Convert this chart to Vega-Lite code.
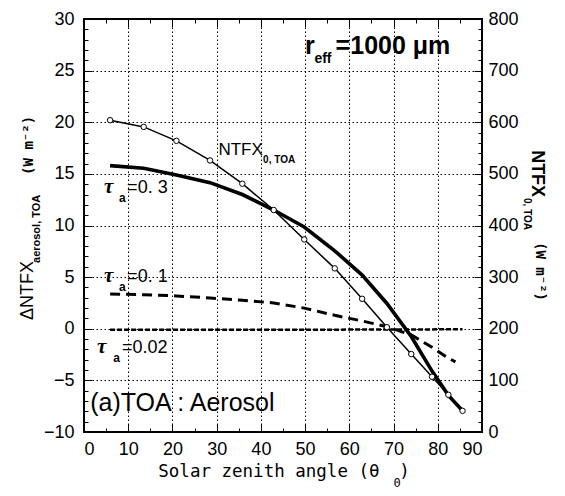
{
  "$schema": "https://vega.github.io/schema/vega-lite/v6.json",
  "autosize": "none",
  "width": 398,
  "height": 413,
  "padding": {"left": 84, "top": 19, "right": 83, "bottom": 64},
  "background": "white",
  "config": {
    "view": {"stroke": "black", "strokeWidth": 2, "fill": "transparent"},
    "axis": {"labelFont": "Liberation Sans", "labelFontSize": 18, "labelColor": "black", "tickColor": "black", "domain": false, "gridColor": "black", "gridDash": [1.5, 2.5], "title": null}
  },
  "datasets": {
    "t03": [
      {"x": 5.9, "y": 15.8}, {"x": 13.5, "y": 15.55}, {"x": 20.9, "y": 14.9}, {"x": 28.5, "y": 14.15},
      {"x": 35.8, "y": 13.0}, {"x": 42.9, "y": 11.5}, {"x": 49.8, "y": 9.85}, {"x": 56.7, "y": 7.55},
      {"x": 62.9, "y": 5.2}, {"x": 68.5, "y": 2.45}, {"x": 74.0, "y": -0.75}, {"x": 78.7, "y": -4.1},
      {"x": 82.4, "y": -6.45}, {"x": 85.6, "y": -7.95}
    ],
    "t01": [
      {"x": 5.9, "y": 3.37}, {"x": 13.5, "y": 3.3}, {"x": 20.9, "y": 3.18}, {"x": 28.5, "y": 2.98},
      {"x": 35.8, "y": 2.75}, {"x": 42.9, "y": 2.5}, {"x": 49.8, "y": 2.0}, {"x": 56.7, "y": 1.3},
      {"x": 62.9, "y": 0.75}, {"x": 68.5, "y": 0.2}, {"x": 74.0, "y": -0.6}, {"x": 78.7, "y": -1.8},
      {"x": 82.4, "y": -2.85}, {"x": 84.0, "y": -3.2}
    ],
    "t002": [
      {"x": 5.9, "y": -0.1}, {"x": 20.9, "y": -0.1}, {"x": 42.9, "y": -0.1}, {"x": 62.9, "y": -0.08},
      {"x": 74.0, "y": -0.07}, {"x": 85.6, "y": -0.05}
    ],
    "ntfx": [
      {"x": 5.9, "y": 604}, {"x": 13.5, "y": 591}, {"x": 20.9, "y": 564}, {"x": 28.5, "y": 526},
      {"x": 35.8, "y": 481}, {"x": 42.9, "y": 430}, {"x": 49.8, "y": 373}, {"x": 56.7, "y": 317},
      {"x": 62.9, "y": 258}, {"x": 68.5, "y": 203}, {"x": 74.0, "y": 151}, {"x": 78.7, "y": 107},
      {"x": 82.4, "y": 72}, {"x": 85.6, "y": 41}
    ],
    "eqlab": [
      {"x": 9.75, "y": 13.15, "t": "=0. 3"},
      {"x": 9.75, "y": 4.53, "t": "=0. 1"},
      {"x": 8.6, "y": -2.35, "t": "=0.02"}
    ],
    "taulab": [
      {"x": 4.55, "y": 13.15, "t": "τ"},
      {"x": 4.55, "y": 4.53, "t": "τ"},
      {"x": 2.96, "y": -2.35, "t": "τ"}
    ],
    "alab": [
      {"x": 7.94, "y": 12.28, "t": "a"},
      {"x": 7.94, "y": 3.66, "t": "a"},
      {"x": 6.6, "y": -3.22, "t": "a"}
    ],
    "rlab": [{"x": 50.0, "y": 26.6, "t": "r"}],
    "efflab": [{"x": 52.1, "y": 25.7, "t": "eff"}],
    "umlab": [{"x": 56.9, "y": 26.6, "t": "=1000 μm"}],
    "ntlab": [{"x": 30.4, "y": 16.83, "t": "NTFX"}],
    "ntsub": [{"x": 40.5, "y": 16.05, "t": "0, TOA"}],
    "panel": [{"x": 1.4, "y": -7.97, "t": "(a)TOA : Aerosol"}],
    "ltitle": [{"x": -11.5, "y": 0.85, "t": "ΔNTFX"}],
    "lsub": [{"x": -9.93, "y": 6.37, "t": "aerosol, TOA"}],
    "lunit": [{"x": -11.5, "y": 14.9, "t": "(W m⁻²)"}],
    "rtitle": [{"x": 101.4, "y": 17.3, "t": "NTFX"}],
    "rsub": [{"x": 99.6, "y": 12.66, "t": "0, TOA"}],
    "runit": [{"x": 102.1, "y": 8.4, "t": "(W m⁻²)"}],
    "btitle": [{"x": 16.8, "y": -14.36, "t": "Solar zenith angle (θ"}, {"x": 71.3, "y": -14.36, "t": ")"}],
    "bsub": [{"x": 70.0, "y": -15.3, "t": "0"}]
  },
  "resolve": {"scale": {"y": "independent"}, "axis": {"x": "independent", "y": "independent"}},
  "layer": [
    {
      "resolve": {"axis": {"x": "independent", "y": "independent"}},
      "encoding": {
        "x": {"field": "x", "type": "quantitative", "scale": {"domain": [0, 90], "nice": false, "zero": false}, "axis": null},
        "y": {"field": "y", "type": "quantitative", "scale": {"domain": [-10, 30], "nice": false, "zero": false}, "axis": null}
      },
      "layer": [
        {
          "data": {"name": "t03"},
          "mark": {"type": "line", "color": "black", "strokeWidth": 3.6},
          "encoding": {
            "x": {"field": "x", "type": "quantitative", "scale": {"domain": [0, 90], "nice": false, "zero": false},
                  "axis": {"orient": "bottom", "values": [0, 10, 20, 30, 40, 50, 60, 70, 80, 90], "grid": true, "tickSize": -8, "labelPadding": 16}},
            "y": {"field": "y", "type": "quantitative", "scale": {"domain": [-10, 30], "nice": false, "zero": false},
                  "axis": {"orient": "left", "values": [-10, -5, 0, 5, 10, 15, 20, 25, 30], "grid": true, "tickSize": -8, "labelPadding": 18, "labelExpr": "replace(datum.label, '-', '−')"}}
          }
        },
        {
          "data": {"name": "t01"},
          "mark": {"type": "line", "color": "black", "strokeWidth": 3, "strokeDash": [10, 6]},
          "encoding": {
            "x": {"field": "x", "type": "quantitative", "scale": {"domain": [0, 90], "nice": false, "zero": false},
                  "axis": {"orient": "bottom", "values": [5, 15, 25, 35, 45, 55, 65, 75, 85], "labels": false, "grid": false, "tickSize": -4}},
            "y": {"field": "y", "type": "quantitative", "scale": {"domain": [-10, 30], "nice": false, "zero": false},
                  "axis": {"orient": "left", "values": [-9, -8, -7, -6, -4, -3, -2, -1, 1, 2, 3, 4, 6, 7, 8, 9, 11, 12, 13, 14, 16, 17, 18, 19, 21, 22, 23, 24, 26, 27, 28, 29], "labels": false, "grid": false, "tickSize": -4}}
          }
        },
        {
          "data": {"name": "t002"},
          "mark": {"type": "line", "color": "black", "strokeWidth": 2.5, "strokeDash": [5, 2]},
          "encoding": {
            "x": {"field": "x", "type": "quantitative", "scale": {"domain": [0, 90], "nice": false, "zero": false},
                  "axis": {"orient": "top", "values": [0, 10, 20, 30, 40, 50, 60, 70, 80, 90], "labels": false, "grid": false, "tickSize": -8}}
          }
        },
        {
          "data": {"name": "eqlab"},
          "mark": {"type": "text", "font": "Liberation Sans", "fontSize": 18, "align": "left", "baseline": "alphabetic", "color": "black"},
          "encoding": {
            "x": {"field": "x", "type": "quantitative", "scale": {"domain": [0, 90], "nice": false, "zero": false},
                  "axis": {"orient": "top", "values": [5, 15, 25, 35, 45, 55, 65, 75, 85], "labels": false, "grid": false, "tickSize": -4}},
            "text": {"field": "t"}
          }
        },
        {"data": {"name": "taulab"}, "mark": {"type": "text", "font": "Liberation Serif", "fontSize": 21, "fontStyle": "italic", "fontWeight": "bold", "align": "left", "baseline": "alphabetic", "color": "black"}, "encoding": {"text": {"field": "t"}}},
        {"data": {"name": "alab"}, "mark": {"type": "text", "font": "Liberation Sans", "fontSize": 12, "fontWeight": "bold", "align": "left", "baseline": "alphabetic", "color": "black"}, "encoding": {"text": {"field": "t"}}},
        {"data": {"name": "rlab"}, "mark": {"type": "text", "font": "Liberation Sans", "fontSize": 25, "fontWeight": "bold", "align": "left", "baseline": "alphabetic", "color": "black"}, "encoding": {"text": {"field": "t"}}},
        {"data": {"name": "efflab"}, "mark": {"type": "text", "font": "Liberation Sans", "fontSize": 14, "fontWeight": "bold", "align": "left", "baseline": "alphabetic", "color": "black"}, "encoding": {"text": {"field": "t"}}},
        {"data": {"name": "umlab"}, "mark": {"type": "text", "font": "Liberation Sans", "fontSize": 25, "fontWeight": "bold", "align": "left", "baseline": "alphabetic", "color": "black"}, "encoding": {"text": {"field": "t"}}},
        {"data": {"name": "ntlab"}, "mark": {"type": "text", "font": "Liberation Sans", "fontSize": 17, "align": "left", "baseline": "alphabetic", "color": "black"}, "encoding": {"text": {"field": "t"}}},
        {"data": {"name": "ntsub"}, "mark": {"type": "text", "font": "Liberation Sans", "fontSize": 10, "fontWeight": "bold", "align": "left", "baseline": "alphabetic", "color": "black"}, "encoding": {"text": {"field": "t"}}},
        {"data": {"name": "panel"}, "mark": {"type": "text", "font": "Liberation Sans", "fontSize": 25, "align": "left", "baseline": "alphabetic", "color": "black"}, "encoding": {"text": {"field": "t"}}},
        {"data": {"name": "ltitle"}, "mark": {"type": "text", "font": "Liberation Sans", "fontSize": 18, "align": "left", "baseline": "alphabetic", "angle": 270, "color": "black"}, "encoding": {"text": {"field": "t"}}},
        {"data": {"name": "lsub"}, "mark": {"type": "text", "font": "Liberation Sans", "fontSize": 11, "fontWeight": "bold", "align": "left", "baseline": "alphabetic", "angle": 270, "color": "black"}, "encoding": {"text": {"field": "t"}}},
        {"data": {"name": "lunit"}, "mark": {"type": "text", "font": "DejaVu Sans Mono", "fontSize": 14, "fontWeight": "bold", "align": "left", "baseline": "alphabetic", "angle": 270, "color": "black"}, "encoding": {"text": {"field": "t"}}},
        {"data": {"name": "rtitle"}, "mark": {"type": "text", "font": "Liberation Sans", "fontSize": 18, "fontWeight": "bold", "align": "left", "baseline": "alphabetic", "angle": 90, "color": "black"}, "encoding": {"text": {"field": "t"}}},
        {"data": {"name": "rsub"}, "mark": {"type": "text", "font": "Liberation Sans", "fontSize": 10, "fontWeight": "bold", "align": "left", "baseline": "alphabetic", "angle": 90, "color": "black"}, "encoding": {"text": {"field": "t"}}},
        {"data": {"name": "runit"}, "mark": {"type": "text", "font": "DejaVu Sans Mono", "fontSize": 14, "fontWeight": "bold", "align": "left", "baseline": "alphabetic", "angle": 90, "color": "black"}, "encoding": {"text": {"field": "t"}}},
        {"data": {"name": "btitle"}, "mark": {"type": "text", "font": "DejaVu Sans Mono", "fontSize": 17.5, "align": "left", "baseline": "alphabetic", "color": "black"}, "encoding": {"text": {"field": "t"}}},
        {"data": {"name": "bsub"}, "mark": {"type": "text", "font": "DejaVu Sans Mono", "fontSize": 12, "align": "left", "baseline": "alphabetic", "color": "black"}, "encoding": {"text": {"field": "t"}}}
      ]
    },
    {
      "resolve": {"axis": {"y": "independent"}},
      "data": {"name": "ntfx"},
      "layer": [
        {
          "mark": {"type": "line", "color": "black", "strokeWidth": 1.5},
          "encoding": {
            "x": {"field": "x", "type": "quantitative", "scale": {"domain": [0, 90], "nice": false, "zero": false}, "axis": null},
            "y": {"field": "y", "type": "quantitative", "scale": {"domain": [0, 800], "nice": false, "zero": false},
                  "axis": {"orient": "right", "values": [0, 100, 200, 300, 400, 500, 600, 700, 800], "grid": false, "tickSize": -8, "labelPadding": 14}}
          }
        },
        {
          "mark": {"type": "point", "shape": "circle", "filled": true, "fill": "white", "stroke": "black", "strokeWidth": 1, "size": 30, "opacity": 1},
          "encoding": {
            "x": {"field": "x", "type": "quantitative", "scale": {"domain": [0, 90], "nice": false, "zero": false}, "axis": null},
            "y": {"field": "y", "type": "quantitative", "scale": {"domain": [0, 800], "nice": false, "zero": false},
                  "axis": {"orient": "right", "values": [20, 40, 60, 80, 120, 140, 160, 180, 220, 240, 260, 280, 320, 340, 360, 380, 420, 440, 460, 480, 520, 540, 560, 580, 620, 640, 660, 680, 720, 740, 760, 780], "labels": false, "grid": false, "tickSize": -4}}
          }
        }
      ]
    }
  ]
}
